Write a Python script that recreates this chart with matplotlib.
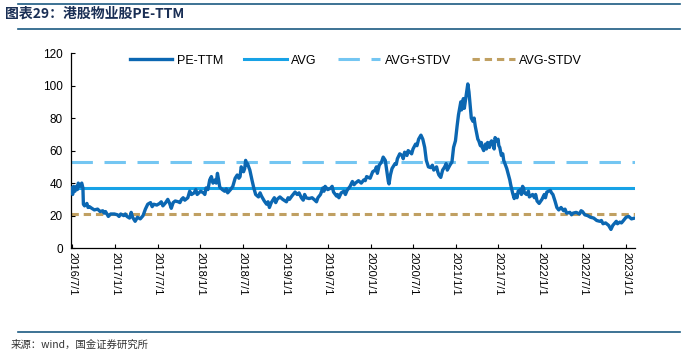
import pandas as pd
import matplotlib
matplotlib.use('Agg')
import matplotlib.pyplot as plt
from matplotlib.lines import Line2D

plt.rcParams['font.family'] = ['Liberation Sans', 'DejaVu Sans']

# PE-TTM
dates = [
    # 2016
    '2016-06-27', '2016-07-02', '2016-07-06', '2016-07-12', '2016-07-18', '2016-07-22',
    '2016-07-26', '2016-08-02', '2016-08-10', '2016-08-15', '2016-08-17', '2016-08-22',
    '2016-09-01', '2016-09-06', '2016-09-12', '2016-09-22', '2016-10-03', '2016-10-17',
    '2016-10-28', '2016-11-08', '2016-11-14', '2016-11-20', '2016-12-02', '2016-12-12',
    '2016-12-28',
    # 2017
    '2017-01-10', '2017-01-17', '2017-01-24', '2017-02-06', '2017-02-13', '2017-02-20',
    '2017-03-03', '2017-03-10', '2017-03-16', '2017-03-27', '2017-04-06', '2017-04-18',
    '2017-04-30', '2017-05-10', '2017-05-20', '2017-06-01', '2017-06-08', '2017-06-15',
    '2017-06-28', '2017-07-10', '2017-07-17', '2017-07-24', '2017-08-05', '2017-08-14',
    '2017-08-22', '2017-08-29', '2017-09-06', '2017-09-15', '2017-09-28', '2017-10-05',
    '2017-10-12', '2017-10-19', '2017-10-26', '2017-11-08', '2017-11-16', '2017-11-24',
    '2017-12-05', '2017-12-12', '2017-12-18',
    # 2018
    '2018-01-02', '2018-01-14', '2018-01-20', '2018-01-25', '2018-02-02', '2018-02-10',
    '2018-02-17', '2018-02-24', '2018-03-05', '2018-03-10', '2018-03-15', '2018-03-20',
    '2018-03-25', '2018-04-05', '2018-04-15', '2018-04-22', '2018-04-28', '2018-05-10',
    '2018-05-20', '2018-05-30', '2018-06-08', '2018-06-15', '2018-06-20', '2018-06-25',
    '2018-07-05', '2018-07-10', '2018-07-14', '2018-07-18', '2018-07-22', '2018-08-01',
    '2018-08-10', '2018-08-18', '2018-08-26', '2018-09-07', '2018-09-14', '2018-09-20',
    '2018-10-02', '2018-10-12', '2018-10-18', '2018-10-24', '2018-11-01', '2018-11-14',
    '2018-11-20', '2018-11-26', '2018-12-08', '2018-12-20',
    # 2019
    '2019-01-05', '2019-01-12', '2019-01-18', '2019-01-28', '2019-02-11', '2019-02-20',
    '2019-02-28', '2019-03-10', '2019-03-18', '2019-03-24', '2019-03-30', '2019-04-12',
    '2019-04-25', '2019-05-07', '2019-05-14', '2019-05-20', '2019-05-31', '2019-06-10',
    '2019-06-15', '2019-06-20', '2019-07-01', '2019-07-15', '2019-07-20', '2019-07-26',
    '2019-08-08', '2019-08-12', '2019-08-18', '2019-08-28', '2019-09-08', '2019-09-15',
    '2019-09-22', '2019-10-05', '2019-10-15', '2019-10-22', '2019-10-28', '2019-11-10',
    '2019-11-22', '2019-12-03', '2019-12-09', '2019-12-15', '2019-12-30',
    # 2020
    '2020-01-10', '2020-01-21', '2020-01-26', '2020-01-30', '2020-02-07', '2020-02-17',
    '2020-02-24', '2020-03-04', '2020-03-10', '2020-03-17', '2020-03-20', '2020-03-26',
    '2020-04-02', '2020-04-15', '2020-04-20', '2020-04-25', '2020-05-05', '2020-05-15',
    '2020-05-20', '2020-05-26', '2020-06-05', '2020-06-10', '2020-06-18', '2020-06-25',
    '2020-07-01', '2020-07-12', '2020-07-18', '2020-07-25', '2020-08-04', '2020-08-12',
    '2020-08-20', '2020-08-27', '2020-09-05', '2020-09-15', '2020-09-22', '2020-09-28',
    '2020-10-10', '2020-10-15', '2020-10-20', '2020-10-28', '2020-11-05', '2020-11-14',
    '2020-11-20', '2020-11-25', '2020-12-06', '2020-12-15', '2020-12-22', '2020-12-30',
    # 2021
    '2021-01-06', '2021-01-12', '2021-01-18', '2021-01-22', '2021-01-25', '2021-02-02',
    '2021-02-06', '2021-02-10', '2021-02-17', '2021-02-21', '2021-02-26', '2021-03-03',
    '2021-03-08', '2021-03-15', '2021-03-20', '2021-03-25', '2021-04-01', '2021-04-05',
    '2021-04-09', '2021-04-16', '2021-04-20', '2021-04-24', '2021-04-30', '2021-05-08',
    '2021-05-12', '2021-05-17', '2021-05-25', '2021-05-29', '2021-06-03', '2021-06-10',
    '2021-06-14', '2021-06-18', '2021-06-24', '2021-07-01', '2021-07-04', '2021-07-08',
    '2021-07-15', '2021-07-21', '2021-07-25', '2021-07-30', '2021-08-07', '2021-08-16',
    '2021-08-20', '2021-08-24', '2021-09-01', '2021-09-08', '2021-09-15', '2021-09-20',
    '2021-09-25', '2021-10-05', '2021-10-09', '2021-10-14', '2021-10-18', '2021-10-22',
    '2021-10-31', '2021-11-08', '2021-11-12', '2021-11-17', '2021-11-26', '2021-12-04',
    '2021-12-09', '2021-12-15', '2021-12-24',
    # 2022
    '2022-01-05', '2022-01-15', '2022-01-20', '2022-01-26', '2022-02-10', '2022-02-15',
    '2022-02-21', '2022-03-02', '2022-03-10', '2022-03-18', '2022-03-28', '2022-04-08',
    '2022-04-14', '2022-04-21', '2022-05-05', '2022-05-12', '2022-05-18', '2022-06-01',
    '2022-06-15', '2022-06-22', '2022-06-28', '2022-07-08', '2022-07-20', '2022-08-01',
    '2022-08-15', '2022-08-28', '2022-09-10', '2022-09-17', '2022-09-24', '2022-10-05',
    '2022-10-18', '2022-10-28', '2022-11-05', '2022-11-14', '2022-11-20', '2022-11-25',
    '2022-12-05', '2022-12-12', '2022-12-18',
    # 2023
    '2023-01-01', '2023-01-12', '2023-01-24', '2023-02-07',
]
pe_ttm = [
    # 2016
    37, 33, 38, 35, 38, 36,
    40, 38, 40, 37, 27, 26,
    27.5, 25, 25.5, 24.5, 23.5, 24,
    22.5, 23, 21.5, 22.5, 19.5, 21,
    21,
    # 2017
    20.5, 19.5, 21, 20, 21, 19.5,
    18.5, 22, 19, 16.5, 19, 18,
    20, 24, 27, 28, 25.5, 27,
    26.5, 27.5, 28.5, 26, 28, 30,
    27.5, 24.5, 28, 29, 28.5, 28,
    30, 31, 29.5, 31, 35, 33,
    34, 36, 33,
    # 2018
    35, 34, 33, 37, 36, 42,
    44, 40, 42, 40, 46, 42,
    37.5, 36, 35, 36.5, 34, 36,
    38, 43, 45, 43, 44, 50,
    47, 49, 54, 51, 52, 48,
    42, 37, 33, 31.5, 34, 32,
    29, 27, 28.5, 25, 28, 31,
    28, 30, 31.5, 30,
    # 2019
    28.5, 31, 30, 32, 34.5, 33,
    34, 31, 29.5, 33, 31, 30.5,
    31, 29.5, 28.5, 31, 33, 37,
    35, 38, 36, 37, 38, 34.5,
    32, 33, 31, 34, 35, 33,
    35.5, 38, 41, 39, 40, 41.5,
    40, 42, 41.5, 44, 43,
    # 2020
    47, 48, 50, 46, 51, 53,
    56, 54, 48, 41, 39.5, 45,
    49, 52, 51.5, 55, 58, 57,
    55, 59, 57, 60, 59, 58,
    61, 64, 63, 67, 69.5, 67,
    62, 54, 50, 49.5, 51, 48,
    50, 47, 45, 43.5, 48, 50,
    52, 48, 51, 53, 62, 66,
    # 2021
    75, 82, 87, 90, 85, 92,
    86, 90, 97, 101, 96, 88,
    80, 78, 80, 75, 70, 67,
    66, 63, 65, 62, 60, 64,
    61, 65, 62, 65, 66, 63,
    61, 68, 66, 67, 63, 62,
    57, 58, 54, 52, 49, 44,
    42, 39, 34, 30.5, 33, 31,
    35, 36, 33, 38, 37, 34,
    33, 35, 31.5, 32, 33, 31,
    33, 29, 27.5,
    # 2022
    30, 33, 31, 34.5, 35.5, 34,
    33, 29, 25, 23.5, 25, 23,
    24, 21.5, 22, 20.5, 21.5, 22,
    21, 23, 22.5, 20.5, 20, 19,
    18.5, 17, 16.5, 17, 15, 15.5,
    14, 11.5, 14, 15.5, 16.5, 15,
    16, 15.5, 16.5,
    # 2023
    19, 19.5, 18, 18.5,
]
assert len(dates) == len(pe_ttm)

avg = 37.1
avg_plus = 53.1
avg_minus = 21.2

tick_dates = ['2016-07-01', '2017-01-01', '2017-07-01', '2018-01-01', '2018-07-01',
              '2019-01-01', '2019-07-01', '2020-01-01', '2020-07-01', '2021-01-01',
              '2021-07-01', '2022-01-01', '2022-07-01', '2023-01-01']
y_ticks = [0, 20, 40, 60, 80, 100, 120]

x = pd.to_datetime(dates)
ticks = pd.to_datetime(tick_dates)

fig = plt.figure(figsize=(6.83, 3.56), dpi=100)
ax = fig.add_axes([0.104, 0.303, 0.826, 0.548])

c_pe = '#0b67b2'
c_avg = '#17a2e6'
c_plus = '#74c6f2'
c_minus = '#c0a062'

ax.plot(x, pe_ttm, color=c_pe, lw=2.4, solid_joinstyle='round', zorder=3)
ax.axhline(avg, color=c_avg, lw=2.2, zorder=2)
ax.axhline(avg_plus, color=c_plus, lw=2.2, ls=(0, (7, 3.8)), zorder=2)
ax.axhline(avg_minus, color=c_minus, lw=2.2, ls=(0, (2.4, 1.6)), zorder=2)

ax.set_xlim(pd.Timestamp('2016-06-25'), pd.Timestamp('2023-02-09'))
ax.set_ylim(0, 120)
ax.set_yticks(y_ticks)
ax.set_xticks(ticks)
ax.set_xticklabels([f'{t.year}/{t.month}/{t.day}' for t in ticks], rotation=270,
                   fontsize=8, va='top', ha='center')
ax.tick_params(axis='y', labelsize=8.5, direction='in', length=3, width=0.8, pad=6)
ax.tick_params(axis='x', direction='in', length=3, width=0.8, pad=3)
for s in ['top', 'right']:
    ax.spines[s].set_visible(False)
for s in ['left', 'bottom']:
    ax.spines[s].set_linewidth(0.9)

handles = [
    Line2D([], [], color=c_pe, lw=2.4),
    Line2D([], [], color=c_avg, lw=2.2),
    Line2D([], [], color=c_plus, lw=2.2, ls=(0, (7, 3.8))),
    Line2D([], [], color=c_minus, lw=2.2, ls=(0, (2.4, 1.6))),
]
ax.legend(handles, ['PE-TTM', 'AVG', 'AVG+STDV', 'AVG-STDV'], loc='upper center',
          bbox_to_anchor=(0.505, 1.05), ncol=4, frameon=False, fontsize=9,
          handlelength=3.4, columnspacing=1.7, handletextpad=0.35)

cjk = ['Noto Sans CJK SC', 'DejaVu Sans']
fig.text(0.008, 0.962, '图表29：港股物业股PE-TTM', family=cjk, fontsize=10,
         fontweight='bold', fontstyle='italic', color='#1a2f55', va='center')
fig.text(0.015, 0.031, '来源：wind，国金证券研究所', family=cjk, fontsize=7.5,
         color='#333333', va='center')
line_c = '#1b5a82'
fig.add_artist(Line2D([0.026, 0.996], [0.989, 0.989], color=line_c, lw=1.2))
fig.add_artist(Line2D([0.026, 0.996], [0.918, 0.918], color=line_c, lw=1.2))
fig.add_artist(Line2D([0.026, 0.996], [0.068, 0.068], color=line_c, lw=1.2))

fig.savefig('out.png', dpi=100)
